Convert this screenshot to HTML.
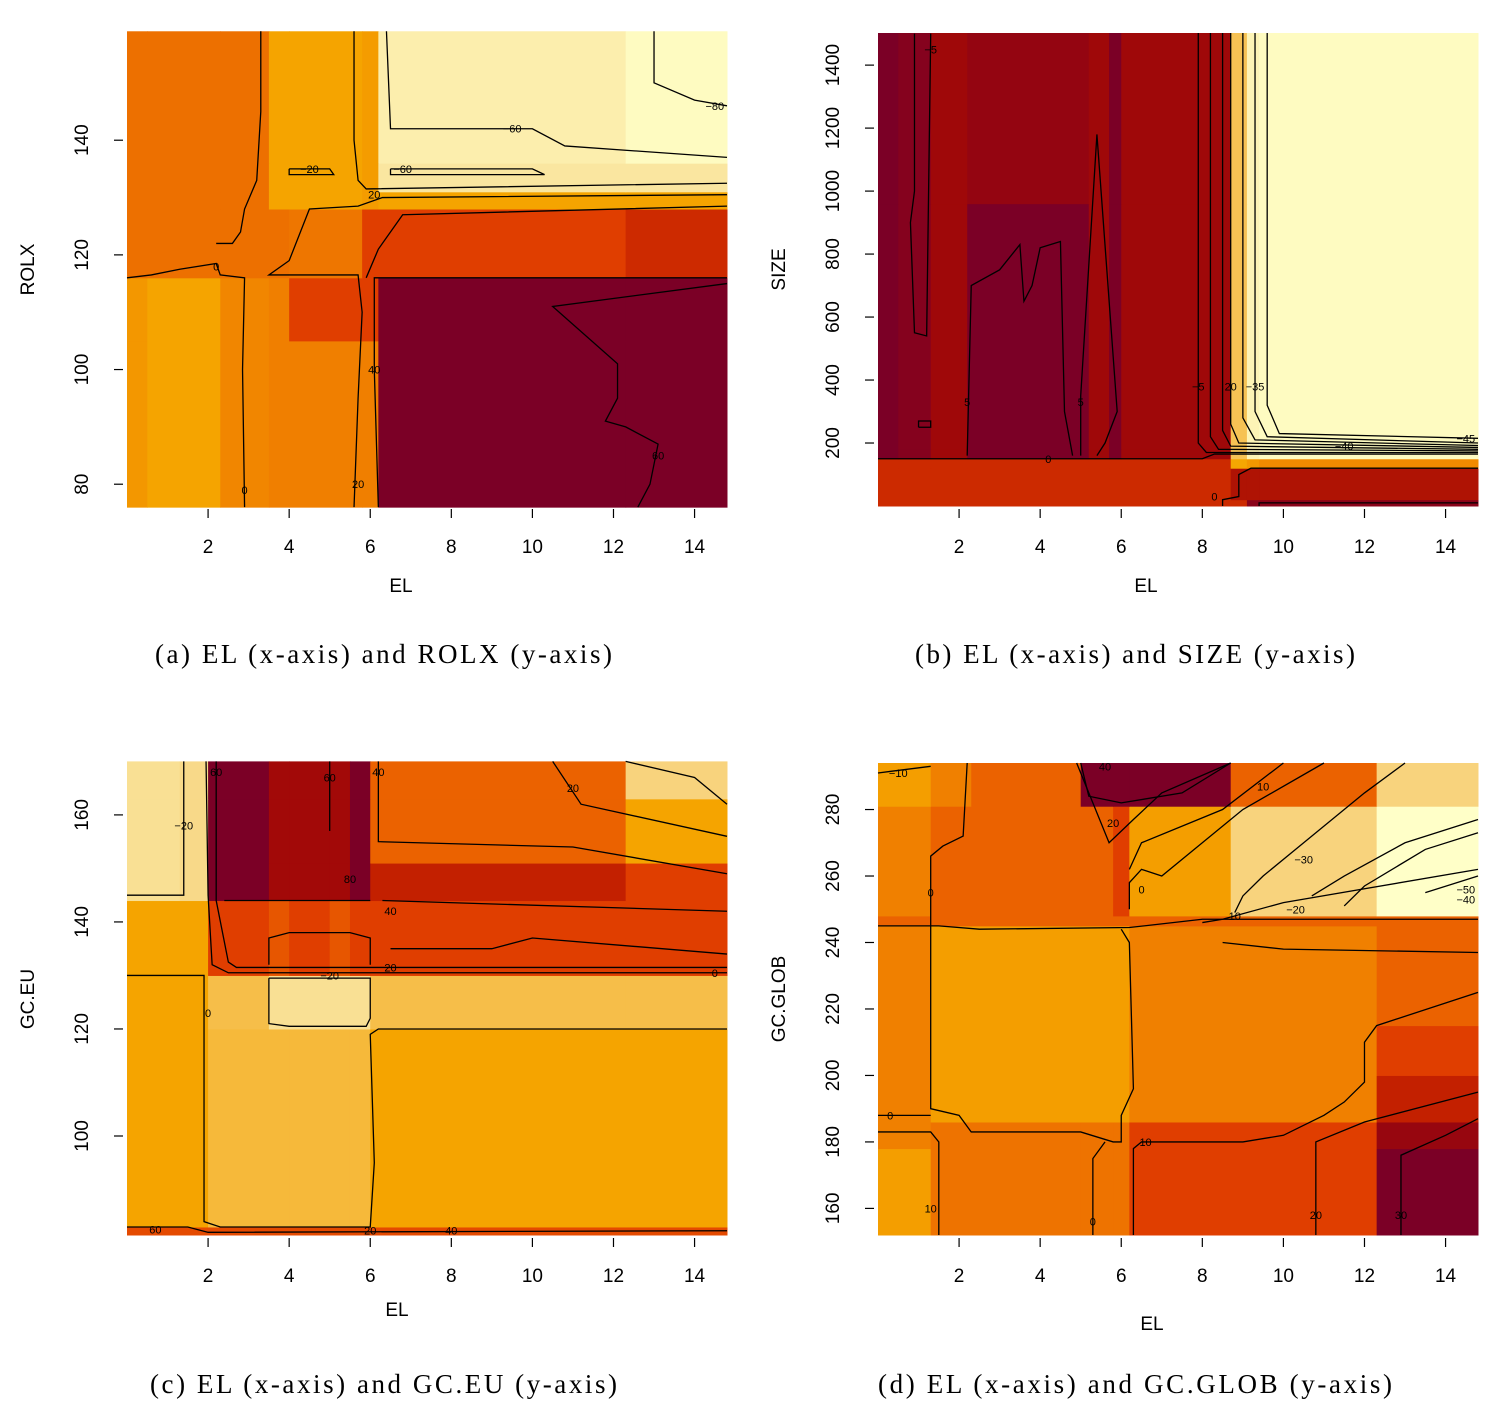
<!DOCTYPE html>
<html><head><meta charset="utf-8">
<style>
html,body{margin:0;padding:0;background:#fff;}
svg{display:block;font-family:"Liberation Sans",sans-serif;}
.cap{font-family:"Liberation Serif",serif;font-size:27px;}
</style></head>
<body>
<svg id="chart" width="1485" height="1419" viewBox="0 0 1485 1419">
<text class="cap" x="155" y="663" textLength="457" lengthAdjust="spacing">(a) EL (x-axis) and ROLX (y-axis)</text>
<text class="cap" x="915" y="663" textLength="440" lengthAdjust="spacing">(b) EL (x-axis) and SIZE (y-axis)</text>
<text class="cap" x="150" y="1393" textLength="467" lengthAdjust="spacing">(c) EL (x-axis) and GC.EU (y-axis)</text>
<text class="cap" x="878" y="1393" textLength="514" lengthAdjust="spacing">(d) EL (x-axis) and GC.GLOB (y-axis)</text>
</svg>
<script>
// ---------- data: panel a ----------
const aXBreaks=[0,0.5,2.3,3.5,4,5.8,6.2,12.3,14.8];
const aYBreaks=[76,105,116,128,131,136,159];
const aValues=[ // rows bottom->top
 [-10,-15,-3,0,0,0,70,70],
 [-10,-15,-3,0,25,25,70,70],
 [5,5,5,5,3,25,25,35],
 [5,5,5,-15,-15,-12,-15,-15],
 [5,5,5,-15,-15,-12,-50,-50],
 [5,5,5,-15,-15,-12,-60,-75]];
const aXTicks=[2,4,6,8,10,12,14];
const aYTicks=[80,100,120,140];
const aLines=[
 [[0,116],[0.6,116.5],[1.3,117.5],[2.2,118.5],[2.3,116.5],[2.9,116],[2.85,100],[2.9,76]],
 [[2.2,122],[2.6,122],[2.8,124],[2.9,128],[3.2,133],[3.3,145],[3.3,159]],
 [[5.6,76],[5.7,95],[5.8,110],[5.7,116.5],[3.5,116.5],[4,119],[4.5,128],[5.7,128.5],[6.3,130],[14.8,130.5]],
 [[5.6,159],[5.6,140],[5.7,133],[5.9,131.5],[14.8,132.5]],
 [[6.2,76],[6.1,100],[6.1,116],[14.8,116]],
 [[5.9,116],[6.2,121],[6.8,127],[14.8,128.5]],
 [[12.6,76],[12.9,80],[13.1,87],[12.3,90],[11.8,91],[12.1,95],[12.1,101],[10.5,111],[14.8,115]],
 [[6.4,159],[6.5,142],[10,142],[10.8,139],[14.8,137]],
 [[6.5,135],[10,135],[10.3,134],[6.5,134],[6.5,135]],
 [[4,135],[5,135],[5.1,134],[4,134],[4,135]],
 [[13,159],[13,150],[14,147],[14.8,146]]];
const aLabels=[[2.9,79,"0"],[5.7,80,"20"],[6.1,100,"40"],[13.1,85,"60"],[9.5,142,"\u221260"],[6.8,135,"\u221260"],[4.5,135,"\u221220"],[6.1,130.5,"20"],[14.5,146,"\u221280"],[2.2,118,"0"]];
// ---------- data: panel b ----------
const bXBreaks=[0,0.5,1.3,2.2,5.2,5.7,6,8.7,9.1,9.4,14.8];
const bYBreaks=[0,20,120,150,180,960,1502];
const bValues=[
 [-7,-7,-7,-7,-7,-7,-7,-7,3,3],
 [-7,-7,-7,-7,-7,-7,-7,-3,-3,-3],
 [-7,-7,-7,-7,-7,-7,-7,-26,-24,-22],
 [6,4,-1,6,-1,6,-1,-30,-45,-48],
 [6,4,-1,6,-1,6,-1,-30,-45,-48],
 [6,4,-1,1,-1,6,-1,-30,-45,-48]];
const bXTicks=[2,4,6,8,10,12,14];
const bYTicks=[200,400,600,800,1000,1200,1400];
const bLines=[
 [[0,150],[8,150],[8.3,165],[14.8,165]],
 [[0.9,1500],[0.9,1000],[0.8,900],[0.9,550],[1.2,540],[1.3,1500]],
 [[2.2,160],[2.3,700],[3,750],[3.5,830],[3.6,650],[3.8,700],[4,820],[4.5,840],[4.6,300],[4.8,160]],
 [[5,160],[5,350],[5.4,1180],[5.9,300],[5.6,200],[5.4,160]],
 [[8.5,0],[8.5,20],[8.9,30],[8.9,100],[9.2,120],[14.8,120]],
 [[9.4,0],[9.4,10],[14.8,10]],
 [[7.9,1502],[7.9,200],[8.1,170],[14.8,170]],
 [[8.2,1502],[8.2,220],[8.4,180],[14.8,175]],
 [[8.5,1502],[8.5,240],[8.7,190],[14.8,180]],
 [[8.7,1502],[8.7,260],[8.9,200],[14.8,186]],
 [[9.0,1502],[9.0,280],[9.3,210],[14.8,192]],
 [[9.3,1502],[9.3,300],[9.6,220],[14.8,200]],
 [[9.6,1502],[9.6,320],[9.9,230],[14.8,215]],
 [[1,250],[1.3,250],[1.3,270],[1,270],[1,250]]];
const bLabels=[[4.2,150,"0"],[1.3,1450,"\u22125"],[2.2,330,"5"],[5,330,"5"],[7.9,380,"\u22125"],[8.7,380,"20"],[9.3,380,"\u221235"],[11.5,190,"\u221240"],[14.5,215,"\u221245"],[8.3,30,"0"]];
// ---------- data: panel c ----------
const cXBreaks=[0,1.3,2,3.5,4,5,5.5,6,12.3,14.8];
const cYBreaks=[81.5,83,120,130,137,144,151,163,170];
const cValues=[
 [40,40,40,40,40,40,40,40,40],
 [5,5,-3,-3,-3,-3,-3,5,5],
 [5,5,-5,-25,-25,-25,-25,-5,-5],
 [5,5,45,35,45,35,45,45,45],
 [5,5,45,35,45,35,45,45,45],
 [-25,-20,90,70,70,70,90,60,45],
 [-25,-20,90,70,70,70,90,30,5],
 [-25,-20,90,70,70,70,90,30,-15]];
const cXTicks=[2,4,6,8,10,12,14];
const cYTicks=[100,120,140,160];
const cLines=[
 [[0,130],[1.9,130],[1.9,84],[2.3,83],[6,83],[6.1,95],[6,119],[6.2,120],[14.8,120]],
 [[1.95,170],[2,145],[2.1,132],[2.5,130.5],[14.8,130.5]],
 [[3.5,129.5],[3.5,121],[4,120.5],[5.9,120.5],[6,122],[6,129.5],[3.5,129.5]],
 [[1.4,170],[1.4,145],[0,145]],
 [[2.2,170],[2.2,144],[2.5,132.5],[2.7,131.5],[14.8,131.5]],
 [[10.5,170],[11.2,162],[14.8,156]],
 [[6.2,170],[6.2,155],[11,154],[14.8,149]],
 [[6.3,144],[14.8,142]],
 [[6.5,135],[9,135],[10,137],[14.8,134]],
 [[2.4,144],[6,144]],
 [[5,170],[5,157]],
 [[3.5,132],[3.5,137],[4,138],[5.5,138],[6,137],[6,132]],
 [[12.3,170],[14,167],[14.8,162]],
 [[0,83],[1.5,83],[2,82],[14.8,82.3]]];
const cLabels=[[2.2,168,"60"],[5,167,"60"],[6.2,168,"40"],[11,165,"20"],[5.5,148,"80"],[1.4,158,"\u221220"],[6.5,142,"40"],[6.5,131.5,"20"],[5,130,"\u221220"],[14.5,130.5,"0"],[2,123,"0"],[6,82.3,"20"],[8,82.3,"40"],[0.7,82.5,"60"]];
// ---------- data: panel d ----------
const dXBreaks=[0,1.3,2.3,5,5.8,6.2,8.7,12.3,14.8];
const dYBreaks=[152,178,186,200,215,245,248,281,294];
const dValues=[
 [-10,1,1,1,1,15,15,45],
 [-2,1,1,1,1,15,15,35],
 [-2,-10,-10,-10,-10,-2,-2,25],
 [-2,-10,-10,-10,-10,-2,-2,15],
 [-2,-10,-10,-10,-10,-2,-2,5],
 [5,5,5,5,5,5,5,5],
 [-2,5,5,5,15,-10,-25,-55],
 [-10,-2,5,45,45,45,5,-25]];
const dXTicks=[2,4,6,8,10,12,14];
const dYTicks=[160,180,200,220,240,260,280];
const dLines=[
 [[2.2,294],[2.1,272],[1.6,269],[1.3,266],[1.3,245]],
 [[0,245],[1.5,245],[2.5,244],[6.2,244.5],[8,247],[14.8,247]],
 [[1.3,245],[1.3,190],[2,188],[2.3,183],[5,183],[5.8,180],[6,180],[6,188],[6.3,196],[6.2,240],[6,244]],
 [[0,188],[1.3,188]],
 [[0,183],[1.3,183],[1.5,180],[1.5,152]],
 [[6.3,152],[6.3,178],[6.5,180],[9,180],[10,182],[11,188],[11.5,192],[12,198],[12,210],[12.3,215],[14.8,225]],
 [[5.3,152],[5.3,175],[5.6,180]],
 [[10.8,152],[10.8,180],[12,186],[14.8,195]],
 [[12.9,152],[12.9,176],[14,182],[14.8,187]],
 [[5,294],[5.2,284],[6,282],[7.5,285],[8.7,294]],
 [[4.9,294],[5.7,270],[6.3,277],[7,285],[8.7,294]],
 [[6.2,262],[6.5,270],[8.5,280],[10,294]],
 [[6.2,250],[6.2,258],[6.5,262],[7,260],[7.5,265],[9,280],[11,294]],
 [[8,246],[8.5,247],[10,252],[14.8,262]],
 [[8.8,249],[9,254],[9.5,260],[10.5,270],[12,285],[13,294]],
 [[10.7,254],[11.5,260],[13,270],[14.8,277]],
 [[11.5,251],[12,257],[13.5,268],[14.8,273]],
 [[13.5,255],[14.8,260]],
 [[8.5,240],[10,238],[14.8,237]],
 [[0,291],[1.3,293]]];
const dLabels=[[0.5,291,"\u221210"],[1.3,255,"0"],[0.3,188,"0"],[6.6,180,"10"],[1.3,160,"10"],[5.3,156,"0"],[10.8,158,"20"],[12.9,158,"30"],[5.8,276,"20"],[5.6,293,"40"],[9.5,287,"10"],[6.5,256,"0"],[8.8,248,"10"],[10.3,250,"\u221220"],[10.5,265,"\u221230"],[14.5,253,"\u221240"],[14.5,256,"\u221250"]];

// ---------- drawing ----------
const NS="http://www.w3.org/2000/svg";
const svg=document.getElementById('chart');
const stops=[[0,[255,255,200]],[0.2,[250,230,160]],[0.33,[247,205,115]],[0.43,[245,165,0]],[0.53,[240,128,0]],[0.6,[235,98,0]],[0.7,[224,62,0]],[0.8,[195,32,0]],[0.87,[160,8,8]],[1,[123,0,38]]];
function heat(t){t=Math.max(0,Math.min(1,t));for(let i=1;i<stops.length;i++){if(t<=stops[i][0]){const a=stops[i-1],b=stops[i],f=(t-a[0])/(b[0]-a[0]);const c=a[1].map((v,k)=>Math.round(v+(b[1][k]-v)*f));return `rgb(${c[0]},${c[1]},${c[2]})`;}}return 'rgb(123,0,38)';}
function mk(tag,attrs,parent){const e=document.createElementNS(NS,tag);for(const k in attrs)e.setAttribute(k,attrs[k]);(parent||svg).appendChild(e);return e;}
function panel(id,box,xDom,yDom,vDom,xb,yb,vals,xt,yt,lines,labels,yTitle,xTitleX,xTitleY){
 const g=mk('g',{});
 
 
 const sx=v=>box.x0+(v-xDom[0])/(xDom[1]-xDom[0])*(box.x1-box.x0);
 const sy=v=>box.y1-(v-yDom[0])/(yDom[1]-yDom[0])*(box.y1-box.y0);
 const col=v=>heat((v-vDom[0])/(vDom[1]-vDom[0]));
 for(let r=0;r<vals.length;r++)for(let c=0;c<vals[r].length;c++){
  const x=sx(xb[c]),x2=sx(xb[c+1]),y=sy(yb[r+1]),y2=sy(yb[r]);
  const rc=mk('rect',{x:x,y:y,width:x2-x+0.5,height:y2-y+0.5,fill:col(vals[r][c])},g);
  
  
 }
 lines.forEach(l=>{
  const p=mk('polyline',{points:l.map(q=>sx(q[0])+','+sy(q[1])).join(' '),fill:'none',stroke:'#000','stroke-width':1.3},g);
  
  
 });
 labels.forEach(l=>{
  const t=mk('text',{x:sx(l[0]),y:sy(l[1])+4,'font-size':11,'text-anchor':'middle',fill:'#000'},g);
  t.textContent=l[2];
  
  
 });
 xt.forEach(v=>{
  const tk=mk('line',{x1:sx(v),x2:sx(v),y1:box.y1+3,y2:box.y1+12,stroke:'#000','stroke-width':1.2},g);
  
  
  const t=mk('text',{x:sx(v),y:box.y1+47,'font-size':19,'text-anchor':'middle'},g);
  t.textContent=v;
  
  
 });
 yt.forEach(v=>{
  const tk=mk('line',{x1:box.x0-13,x2:box.x0-4,y1:sy(v),y2:sy(v),stroke:'#000','stroke-width':1.2},g);
  
  
  const t=mk('text',{x:0,y:0,'font-size':19,'text-anchor':'middle',transform:`translate(${box.x0-39},${sy(v)}) rotate(-90)`},g);
  t.textContent=v;
  
  
 });
 const xtl=mk('text',{x:xTitleX,y:xTitleY,'font-size':19,'text-anchor':'middle'},g);
 xtl.textContent='EL';
 
 
 const ytl=mk('text',{x:0,y:0,'font-size':19,'text-anchor':'middle',transform:`translate(${box.x0-93},${(box.y0+box.y1)/2}) rotate(-90)`},g);
 ytl.textContent=yTitle;
 
 
}
panel('a',{x0:127,x1:727,y0:33,y1:506},[0,14.8],[76.2,158.7],[-80,70],aXBreaks,aYBreaks,aValues,aXTicks,aYTicks,aLines,aLabels,'ROLX',401,592);
panel('b',{x0:878,x1:1478,y0:33,y1:506},[0,14.8],[0,1502],[-50,6],bXBreaks,bYBreaks,bValues,bXTicks,bYTicks,bLines,bLabels,'SIZE',1146,592);
panel('c',{x0:127,x1:727,y0:763,y1:1235},[0,14.8],[81.5,169.7],[-60,90],cXBreaks,cYBreaks,cValues,cXTicks,cYTicks,cLines,cLabels,'GC.EU',397,1316);
panel('d',{x0:878,x1:1478,y0:763,y1:1235},[0,14.8],[152,294],[-55,45],dXBreaks,dYBreaks,dValues,dXTicks,dYTicks,dLines,dLabels,'GC.GLOB',1152,1330);
</script>
</body></html>
